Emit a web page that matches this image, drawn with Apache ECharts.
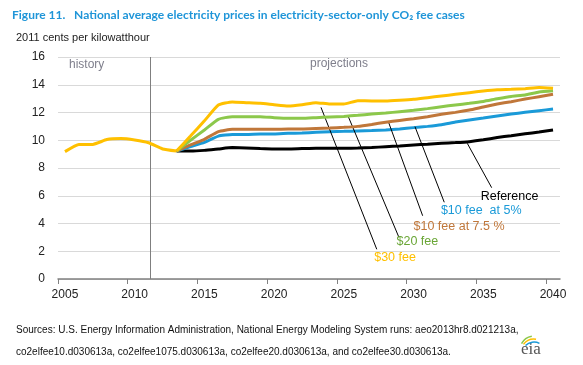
<!DOCTYPE html>
<html><head><meta charset="utf-8">
<script src="https://cdn.jsdelivr.net/npm/echarts@6/dist/echarts.min.js"></script>
<style>html,body{margin:0;padding:0;background:#fff}#c{width:583px;height:365px}</style>
</head><body><div id="c"></div>
<script>
const histYears = [2005,2006,2007,2008,2009,2010,2011,2012,2013];
const history = [9.18,9.7,9.7,10.05,10.12,10.02,9.82,9.37,9.22];
const projYears = [2013,2014,2015,2016,2017,2018,2019,2020,2021,2022,2023,2024,2025,2026,2027,2028,2029,2030,2031,2032,2033,2034,2035,2036,2037,2038,2039,2040];
const reference = [9.22,9.22,9.27,9.37,9.47,9.45,9.4,9.37,9.37,9.4,9.42,9.42,9.42,9.44,9.47,9.54,9.59,9.66,9.71,9.78,9.83,9.9,10.03,10.2,10.33,10.47,10.59,10.74];
const fee10at5 = [9.22,9.54,9.85,10.3,10.42,10.42,10.45,10.45,10.5,10.52,10.57,10.62,10.64,10.67,10.7,10.74,10.81,10.91,11.0,11.12,11.31,11.46,11.6,11.75,11.89,12.01,12.13,12.25];
const fee10at75 = [9.22,9.66,10.07,10.62,10.79,10.79,10.79,10.79,10.81,10.81,10.84,10.88,10.93,11.0,11.14,11.3,11.43,11.55,11.7,11.87,12.01,12.18,12.4,12.61,12.78,12.97,13.14,13.31];
const fee20 = [9.22,10.0,10.74,11.51,11.7,11.7,11.7,11.63,11.58,11.58,11.63,11.68,11.72,11.8,11.89,11.96,12.06,12.16,12.28,12.42,12.54,12.66,12.8,12.99,13.16,13.26,13.48,13.57];
const fee30 = [9.22,10.3,11.4,12.54,12.76,12.71,12.66,12.56,12.47,12.56,12.71,12.61,12.61,12.85,12.83,12.83,12.88,12.95,13.07,13.19,13.31,13.43,13.55,13.64,13.67,13.72,13.81,13.74];
const xLabelYears = [2005,2010,2015,2020,2025,2030,2035,2040];
const xTickYears = [2004.5,2009.5,2014.5,2019.5,2024.5,2029.5,2034.5,2039.5];
const dividerYear = 2011.12;
// leader lines: [from year, from value, to year, to value]
const leaders = {
  ref:  [2033.85, 9.78, 2035.6, 6.58],
  f5:   [2030.1, 10.98, 2032.2, 5.53],
  f75:  [2028.19, 11.34, 2030.65, 4.56],
  f20:  [2025.32, 11.7, 2028.95, 3.0],
  f30:  [2023.36, 12.37, 2027.36, 2.14]
};
// label centers: [year, value]
const labelPos = {
  ref: [2036.88, 5.93], f5: [2034.85, 4.9], f75: [2033.26, 3.77], f20: [2030.27, 2.67], f30: [2028.67, 1.54]
};
const labelText = {ref:'Reference', f5:'$10 fee  at 5%', f75:'$10 fee at 7.5 %', f20:'$20 fee', f30:'$30 fee'};
const colors = {ref:'#000000', f5:'#1a9ad8', f75:'#c0773a', f20:'#8cc84b', f30:'#ffc000'};
const labelColors = {ref:'#000000', f5:'#1a9ad8', f75:'#c0773a', f20:'#6aa636', f30:'#ffc000'};

const zip = (xs, ys) => xs.map((x,i)=>[x, ys[i]]);
function projSeries(key, vals, z){
  const l = leaders[key];
  return {
    type:'line', data: zip(projYears, vals), showSymbol:false, symbol:'none', z:z,
    lineStyle:{color:colors[key], width:3}, itemStyle:{color:colors[key]}, smooth:0.15,
    markLine:{silent:true, symbol:'none', animation:false,
      lineStyle:{color:'#000', width:1, type:'solid'}, label:{show:false},
      data:[[{coord:[l[0],l[1]]},{coord:[l[2],l[3]]}]]},
    markPoint:{silent:true, symbol:'circle', symbolSize:1, itemStyle:{color:'rgba(0,0,0,0)'}, animation:false,
      label:{show:true, position:'inside', formatter:labelText[key], color:labelColors[key], fontSize:12.5, fontFamily:'Liberation Sans, Arial'},
      data:[{coord:labelPos[key]}]}
  };
}
const chart = echarts.init(document.getElementById('c'), null, {renderer:'canvas'});
chart.setOption({
  animation:false,
  backgroundColor:'#fff',
  title:{text:'Figure 11.   National average electricity prices in electricity-sector-only CO\u2082 fee cases', left:7, top:4,
    textStyle:{color:'#1f95d8', fontSize:12, fontWeight:'bold', fontFamily:'Lato, Open Sans, sans-serif'}},
  grid:{left:58, right:23, top:57, bottom:86},
  xAxis:{type:'value', min:2004.5, max:2040.5,
    axisLine:{show:true, lineStyle:{color:'#808080', width:1.5}},
    axisTick:{show:true, length:5, lineStyle:{color:'#808080'}, customValues: xTickYears},
    axisLabel:{color:'#222', fontSize:12, fontFamily:'Liberation Sans, Arial', margin:10, customValues: xLabelYears,
      formatter: v => String(v)},
    splitLine:{show:false}},
  yAxis:{type:'value', min:0, max:16, interval:2,
    axisLine:{show:false}, axisTick:{show:false},
    axisLabel:{color:'#222', fontSize:12, fontFamily:'Liberation Sans, Arial', margin:13},
    splitLine:{lineStyle:{color:'#d9d9d9', width:1}}},
  graphic:[
    {type:'text', left:16, top:32, style:{text:'2011 cents per kilowatthour', fill:'#222', font:'11px "Liberation Sans", Arial'}},
    {type:'text', left:69, top:59, style:{text:'history', fill:'#7f7f8c', font:'12px "Liberation Sans", Arial'}},
    {type:'text', left:310, top:58, style:{text:'projections', fill:'#7f7f8c', font:'12px "Liberation Sans", Arial'}},
    {type:'text', left:16, top:325, style:{text:'Sources: U.S. Energy Information Administration, National Energy Modeling System runs: aeo2013hr8.d021213a,', fill:'#111', font:'10px "Liberation Sans", Arial'}},
    {type:'text', left:16, top:347, style:{text:'co2elfee10.d030613a, co2elfee1075.d030613a, co2elfee20.d030613a, and co2elfee30.d030613a.', fill:'#111', font:'10px "Liberation Sans", Arial'}},
    {type:'text', left:521, top:341, style:{text:'eia', fill:'#555', font:'17px "Liberation Serif", serif'}},
    {type:'arc', shape:{cx:534, cy:350, r:14, startAngle:-Math.PI*0.85, endAngle:-Math.PI*0.55}, style:{stroke:'#8cc84b', lineWidth:1.5, fill:null}},
    {type:'arc', shape:{cx:534, cy:352, r:13, startAngle:-Math.PI*0.8, endAngle:-Math.PI*0.45}, style:{stroke:'#ffc000', lineWidth:1.5, fill:null}},
    {type:'arc', shape:{cx:534, cy:354, r:12, startAngle:-Math.PI*0.75, endAngle:-Math.PI*0.35}, style:{stroke:'#1a9ad8', lineWidth:1.5, fill:null}}
  ],
  series:[
    {type:'line', data: zip(histYears, history), showSymbol:false, symbol:'none', z:10, smooth:0.15,
      lineStyle:{color:colors.f30, width:3},
      markLine:{silent:true, symbol:'none', animation:false, label:{show:false},
        lineStyle:{color:'#7f7f7f', width:1, type:'solid'}, data:[{xAxis:dividerYear}]}},
    projSeries('ref', reference, 3),
    projSeries('f5', fee10at5, 4),
    projSeries('f75', fee10at75, 5),
    projSeries('f20', fee20, 6),
    projSeries('f30', fee30, 7)
  ]
});
</script></body></html>
